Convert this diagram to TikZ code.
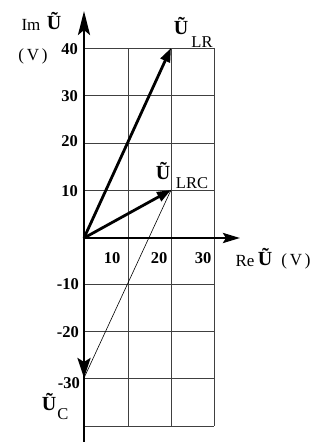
\documentclass[tikz,border=0pt]{standalone}
\usepackage{fontspec}
\setmainfont{Liberation Serif}
\usetikzlibrary{arrows.meta}
\begin{document}
\begin{tikzpicture}[x=1pt,y=-1pt,
  gridline/.style={draw=black!75,line width=0.9pt},
  axisline/.style={line width=2.8pt},
  vec/.style={line width=2.8pt,-{Triangle[length=14pt,width=10pt]}},
  thinline/.style={line width=0.6pt},
  tick/.style={inner sep=0pt,font=\fontsize{16.5}{18}\selectfont\bfseries},
  lbl/.style={inner sep=0pt,font=\fontsize{17}{18}\selectfont},
  bigu/.style={inner sep=0pt,font=\fontsize{20}{22}\selectfont\bfseries},
  subs/.style={inner sep=0pt,font=\fontsize{16.5}{18}\selectfont}]
\useasboundingbox (0,0) rectangle (323,442);
\fill[white] (0,0) rectangle (323,442);
% grid
\foreach \x in {128,171,214} \draw[gridline] (\x,48) -- (\x,426);
\foreach \y in {48,95.5,143,190,284,331,378,426} \draw[gridline] (84,\y) -- (214,\y);
% coordinates
\coordinate (O) at (84,238);
\coordinate (LR) at (171,48);
\coordinate (LRC) at (171,190);
\coordinate (C) at (84,378);
\coordinate (ybot) at (84,442);
\coordinate (ytop) at (84,11);
\coordinate (xend) at (240,238);
% axes
\draw[axisline,-{Stealth[length=24pt,width=12pt,inset=5pt]}] (ybot) -- (ytop);
\draw[axisline,-{Stealth[length=17pt,width=10pt,inset=3pt]}] (O) -- (xend);
% vectors
\draw[thinline] (C) -- (LRC);
\draw[vec] (O) -- (LR);
\draw[vec] (O) -- (LRC);
\draw[line width=2.8pt,-{Stealth[length=20pt,width=13pt,inset=4pt]}] (O) -- (C);
% y tick labels
\node[tick,anchor=east] (t40) at (78,49) {40};
\node[tick,anchor=east] (t30) at (78,96) {30};
\node[tick,anchor=east] (t20) at (78,141) {20};
\node[tick,anchor=east] (t10) at (78,191) {10};
\node[tick,anchor=east] (tm10) at (79,284) {-10};
\node[tick,anchor=east] (tm20) at (79,332) {-20};
\node[tick,anchor=east] (tm30) at (80,383) {-30};
% x tick labels
\node[tick] (x10) at (112,258) {10};
\node[tick] (x20) at (159,258) {20};
\node[tick] (x30) at (203,258) {30};
% axis titles
\node[lbl] (im) at (31,25) {Im};
\node[bigu] (imu) at (54,21) {Ũ};
\node[lbl] (imv) at (33,56) {(\,V\,)};
\node[lbl] (re) at (245,261) {Re};
\node[bigu] (reu) at (265,257) {Ũ};
\node[lbl] (rev) at (296,261) {(\,V\,)};
% vector labels
\node[bigu] (ulr) at (181,26) {Ũ};
\node[subs] (ulrs) at (202,42) {LR};
\node[bigu] (ulrc) at (163,171) {Ũ};
\node[subs] (ulrcs) at (192,183) {LRC};
\node[bigu] (uc) at (49,402) {Ũ};
\node[subs] (ucs) at (63,414) {C};
\end{tikzpicture}
\end{document}
